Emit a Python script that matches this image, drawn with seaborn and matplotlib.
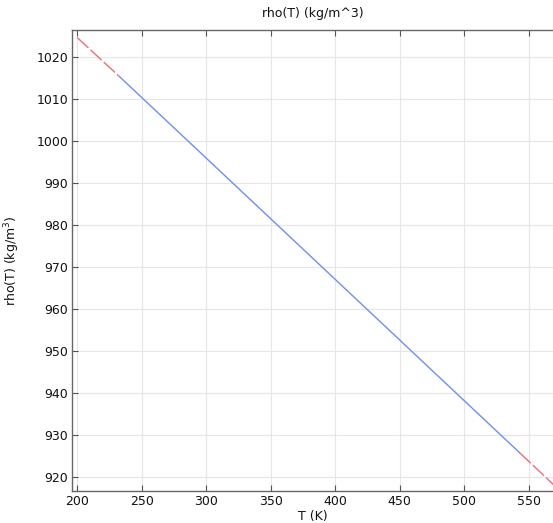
import matplotlib
matplotlib.use("Agg")
import matplotlib.pyplot as plt
import seaborn as sns
import pandas as pd

# Data
T_low = [200.0, 233.15]
rho_low = [1024.7, 1015.3]
T_mid = [233.15, 543.15]
rho_mid = [1015.3, 925.8]
T_high = [543.15, 575.0]
rho_high = [925.8, 916.6]

x_ticks = [200, 250, 300, 350, 400, 450, 500, 550]
y_ticks = [920, 930, 940, 950, 960, 970, 980, 990, 1000, 1010, 1020]

sns.set_theme(style="white")
plt.rcParams['font.family'] = ['DejaVu Sans']

fig = plt.figure(figsize=(5.53, 5.23), dpi=100)
ax = fig.add_axes([72.3 / 553, 1 - 491 / 523, 1 - 72.3 / 553, (491 - 30) / 523])

blue = "#6d8ff0"
red = "#ef6b7c"

df_mid = pd.DataFrame({"T": T_mid, "rho": rho_mid})
df_low = pd.DataFrame({"T": T_low, "rho": rho_low})
df_high = pd.DataFrame({"T": T_high, "rho": rho_high})

sns.lineplot(data=df_mid, x="T", y="rho", ax=ax, color=blue, linewidth=1.0)
sns.lineplot(data=df_low, x="T", y="rho", ax=ax, color=red, linewidth=1.0, linestyle=(0, (11, 2)))
sns.lineplot(data=df_high, x="T", y="rho", ax=ax, color=red, linewidth=1.0, linestyle=(0, (11, 2)))

ax.set_xlim(196.2, 569.0)
ax.set_ylim(916.7, 1026.5)
ax.set_xticks(x_ticks)
ax.set_yticks(y_ticks)
ax.grid(True, color="#e6e6e6", linewidth=0.8)
ax.set_axisbelow(True)

ax.tick_params(axis="both", direction="in", length=4, width=0.8, color="#555555",
               labelsize=9, labelcolor="#111111", pad=3)
ax.tick_params(axis="x", top=True, bottom=True)
ax.tick_params(axis="y", left=True, right=False)

for side in ["left", "bottom", "top"]:
    ax.spines[side].set_visible(True)
    ax.spines[side].set_color("#666666")
    ax.spines[side].set_linewidth(1.0)
ax.spines["right"].set_visible(False)

ax.set_xlabel("T (K)", fontsize=9, color="#111111", labelpad=1)
ax.set_ylabel("rho(T) (kg/m$^3$)", fontsize=9, color="#111111", labelpad=10)
ax.set_title("rho(T) (kg/m^3)", fontsize=9, color="#111111", pad=9)

fig.savefig("out.png", dpi=100)
